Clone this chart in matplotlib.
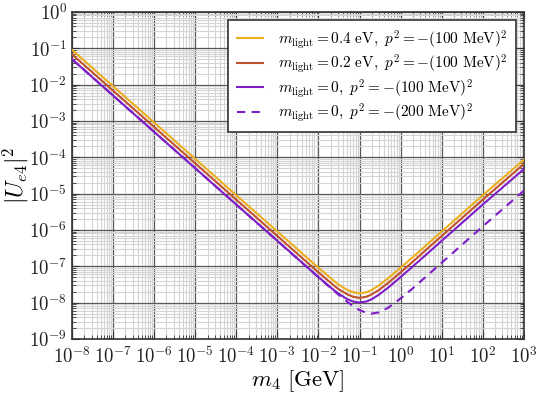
import matplotlib
matplotlib.use("Agg")
import matplotlib.pyplot as plt
from matplotlib.ticker import FixedLocator, FixedFormatter, NullFormatter
import numpy as np

plt.rcParams['mathtext.fontset'] = 'cm'
plt.rcParams['font.family'] = ['DejaVu Serif']

# data
m4 = [1e-8, 1e-6, 1e-4, 1e-2, 0.02, 0.03, 0.05, 0.07, 0.1, 0.15, 0.2, 0.3, 0.5, 1, 2, 5, 10, 100, 1000]
u_04 = [9e-2, 9e-4, 9e-6, 9.1e-8, 4.7e-8, 3.2e-8, 2.25e-8, 1.93e-8, 1.8e-8, 1.94e-8, 2.25e-8, 3.0e-8, 4.7e-8, 9.1e-8, 1.8e-7, 4.5e-7, 9e-7, 9e-6, 8.5e-5]
u_02 = [6.8e-2, 6.8e-4, 6.8e-6, 6.8e-8, 3.5e-8, 2.4e-8, 1.7e-8, 1.45e-8, 1.35e-8, 1.46e-8, 1.7e-8, 2.25e-8, 3.5e-8, 6.8e-8, 1.35e-7, 3.4e-7, 6.8e-7, 6.8e-6, 6.5e-5]
u_0 = [5e-2, 5e-4, 5e-6, 5.05e-8, 2.6e-8, 1.8e-8, 1.25e-8, 1.07e-8, 1.0e-8, 1.08e-8, 1.25e-8, 1.67e-8, 2.6e-8, 5.05e-8, 1.0e-7, 2.5e-7, 5e-7, 5e-6, 4.7e-5]
u_0_200 = [5e-2, 5e-4, 5e-6, 5.0e-8, 2.5e-8, 1.7e-8, 1.06e-8, 8.0e-9, 6.25e-9, 5.2e-9, 5.0e-9, 5.4e-9, 7.25e-9, 1.3e-8, 2.5e-8, 6.25e-8, 1.25e-7, 1.25e-6, 1.2e-5]

labels = [r'$m_{\rm light} = 0.4~{\rm eV},~p^2 = -(100~{\rm MeV})^2$',
          r'$m_{\rm light} = 0.2~{\rm eV},~p^2 = -(100~{\rm MeV})^2$',
          r'$m_{\rm light} = 0,~p^2 = -(100~{\rm MeV})^2$',
          r'$m_{\rm light} = 0,~p^2 = -(200~{\rm MeV})^2$']

x_exps = list(range(-8, 4))
y_exps = list(range(-9, 1))
x_ticklabels = [r'$10^{%d}$' % e for e in x_exps]
y_ticklabels = [r'$10^{%d}$' % e for e in y_exps]

fig = plt.figure(figsize=(5.4, 3.96), dpi=100)
ax = fig.add_axes([0.1333, 0.144, 0.8367, 0.826])

ax.plot(m4, u_04, color='#EBAF1E', lw=1.5, label=labels[0], zorder=3)
ax.plot(m4, u_02, color='#C0522E', lw=1.5, label=labels[1], zorder=3)
ax.plot(m4, u_0, color='#7D1DC8', lw=1.5, label=labels[2], zorder=3)
ax.plot(m4, u_0_200, color='#7D1DC8', lw=1.5, ls=(0, (4, 3)), label=labels[3], zorder=3)

ax.set_xscale('log')
ax.set_yscale('log')
ax.set_xlim(1e-8, 1e3)
ax.set_ylim(1e-9, 1)

ax.xaxis.set_major_locator(FixedLocator([10.0**e for e in x_exps]))
ax.xaxis.set_major_formatter(FixedFormatter(x_ticklabels))
ax.yaxis.set_major_locator(FixedLocator([10.0**e for e in y_exps]))
ax.yaxis.set_major_formatter(FixedFormatter(y_ticklabels))
ax.xaxis.set_minor_locator(FixedLocator([k * 10.0**e for e in x_exps[:-1] for k in range(2, 10)]))
ax.yaxis.set_minor_locator(FixedLocator([k * 10.0**e for e in y_exps[:-1] for k in range(2, 10)]))
ax.xaxis.set_minor_formatter(NullFormatter())
ax.yaxis.set_minor_formatter(NullFormatter())

ax.grid(True, which='major', color='#555555', lw=0.9, zorder=1)
ax.grid(True, which='minor', color='#d4d4d4', lw=0.8, zorder=0)
ax.set_axisbelow(True)

ax.tick_params(which='both', direction='in', top=True, right=True, labelsize=13.5, colors='#333333', labelcolor='#222222')
ax.tick_params(which='major', length=5, width=0.8)
ax.tick_params(which='minor', length=3, width=0.6)
ax.tick_params(axis='x', pad=5)
for s in ax.spines.values():
    s.set_color('#333333')
    s.set_linewidth(1.2)

ax.set_xlabel(r'$m_4~[{\rm GeV}]$', fontsize=16.5)
ax.xaxis.set_label_coords(0.5, -0.088)
ax.set_ylabel(r'$|U_{e4}|^2$', fontsize=17)
ax.yaxis.set_label_coords(-0.09, 0.5)

leg = ax.legend(loc='upper right', fontsize=11, frameon=True, fancybox=False,
                handlelength=1.7, handletextpad=1.0, labelspacing=0.12,
                borderaxespad=0.5, borderpad=0.55)
leg.get_frame().set_edgecolor('#333333')
leg.get_frame().set_linewidth(1.2)
leg.get_frame().set_alpha(1.0)

fig.savefig('out.png', dpi=100)
